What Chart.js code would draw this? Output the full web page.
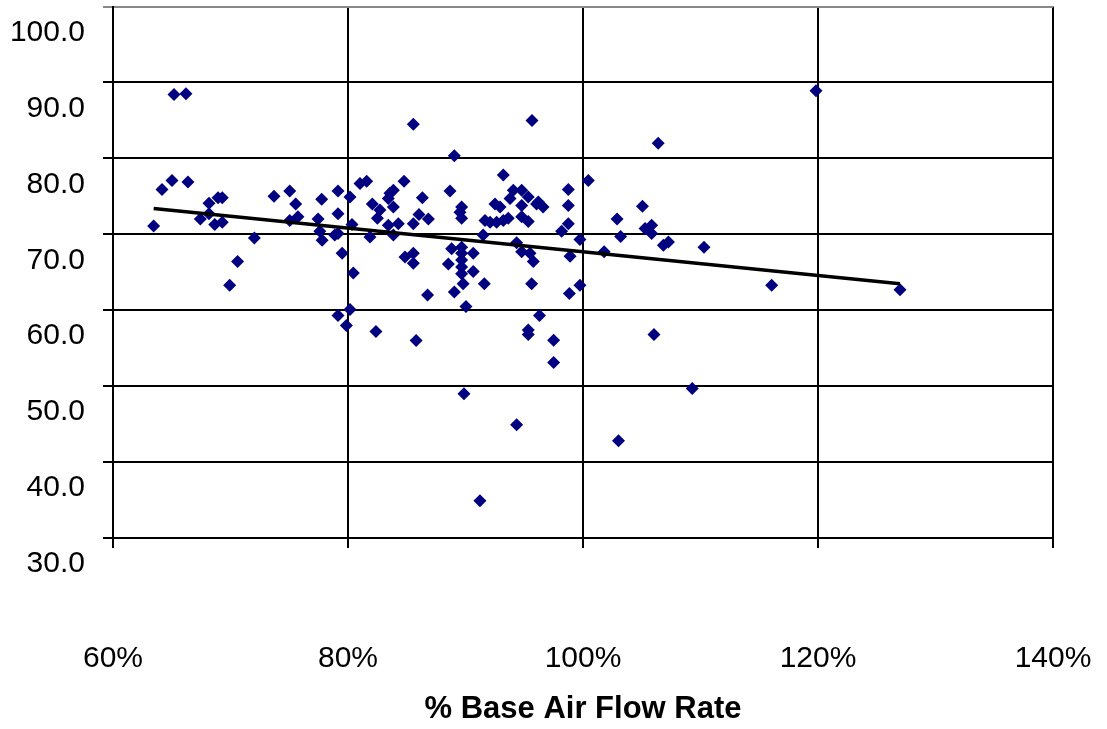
<!DOCTYPE html>
<html>
<head>
<meta charset="utf-8">
<script src="https://cdn.jsdelivr.net/npm/chart.js@4/dist/chart.umd.min.js"></script>
<style>
  html, body { margin: 0; padding: 0; background: #fff; }
  #wrap { width: 1107px; height: 729px; }
</style>
</head>
<body>
<div id="wrap"><canvas id="c" width="1107" height="729"></canvas></div>
<script>
// % base air flow rate (x) for each observation
const airFlowPct = [
  65.19, 66.21, 65.02, 64.17, 66.38, 63.46, 67.43, 68.17, 68.17, 68.94,
  69.30, 68.66, 69.30, 72.03, 70.60, 69.93, 73.70, 75.04, 75.55, 75.04,
  75.74, 77.76, 77.45, 77.60, 77.80, 79.15, 79.15, 78.87, 79.15, 79.50,
  80.17, 80.45, 80.34,
  85.56, 95.66, 89.05, 93.22, 81.02, 81.59, 82.07, 84.77, 83.43, 83.57,
  83.86, 82.72, 82.50, 83.86, 83.43, 84.28, 83.86, 81.87, 86.33, 86.04,
  86.84, 85.56, 88.68, 89.67, 89.53, 89.67, 91.66, 92.09, 92.65, 93.22,
  93.64, 91.50, 92.51, 92.94, 94.07, 94.78, 95.34, 93.79, 94.78, 94.78,
  95.34, 96.05, 88.82, 89.67, 90.66, 89.67, 89.67, 89.67, 89.67, 88.54,
  90.66, 89.80, 91.60, 89.05, 86.77, 84.85, 85.56, 85.56, 94.35, 94.78,
  95.49, 95.77, 95.63,
  90.04, 79.15, 79.86, 80.17, 82.38, 85.80, 95.34, 95.34, 96.30, 89.87,
  94.35, 91.23,
  106.40, 100.45, 98.75, 98.75, 96.20, 96.60, 98.75, 98.18, 99.74, 98.90,
  99.74, 98.84, 102.90, 103.20, 101.80, 105.06, 105.28, 105.84, 105.84, 106.84,
  107.27, 110.30,
  97.50, 97.50, 106.04, 109.30, 103.02,
  119.83, 116.06, 126.98
];
// measured value (y) for each observation
const measuredValue = [
  88.4, 88.5, 77.1, 75.9, 76.9, 71.1, 72.0, 74.1, 72.7, 74.8,
  74.8, 71.3, 71.6, 69.5, 66.4, 63.3, 75.0, 75.7, 74.0, 71.8,
  72.3, 74.6, 72.0, 70.4, 69.2, 75.7, 72.7, 69.9, 70.1, 67.5,
  74.9, 64.9, 71.3,
  84.5, 85.0, 80.35, 77.8, 76.7, 77.0, 74.0, 77.0, 74.7, 75.4,
  75.8, 73.2, 72.1, 73.6, 71.2, 71.4, 69.9, 69.65, 74.8, 72.6,
  72.0, 71.4, 75.7, 73.6, 72.9, 72.1, 71.8, 71.6, 71.6, 71.8,
  72.1, 69.9, 74.0, 73.6, 75.8, 75.8, 74.9, 74.7, 73.8, 72.3,
  71.7, 74.0, 68.1, 68.3, 67.5, 67.5, 66.6, 65.7, 64.8, 66.1,
  65.1, 63.5, 63.5, 62.4, 62.0, 67.0, 67.5, 66.2, 68.9, 67.7,
  67.5, 66.4, 63.5,
  60.5, 59.3, 58.0, 60.1, 57.2, 56.0, 57.4, 56.8, 59.3, 49.0,
  44.9, 34.9,
  82.0, 77.1, 75.9, 73.8, 74.25, 73.6, 71.4, 70.4, 69.3, 67.1,
  63.3, 62.2, 72.0, 69.7, 67.7, 73.7, 70.75, 71.2, 70.1, 68.55,
  69.0, 68.3,
  56.05, 53.1, 56.8, 49.7, 42.8,
  88.9, 63.3, 62.7
];
// linear trendline end points
const trendX = [63.46, 126.98];
const trendY = [73.4, 63.5];
// axis ticks
const xTicks = [60, 80, 100, 120, 140];
const yTicks = [30, 40, 50, 60, 70, 80, 90, 100];

const FONT = "'Liberation Sans', Arial, Helvetica, sans-serif";

const scatterData = airFlowPct.map((x, i) => ({ x: x, y: measuredValue[i] }));
const trendData = trendX.map((x, i) => ({ x: x, y: trendY[i] }));

function noPad(s) {
  s.paddingLeft = 0; s.paddingRight = 0; s.paddingTop = 0; s.paddingBottom = 0;
}

new Chart(document.getElementById('c'), {
  type: 'scatter',
  data: {
    datasets: [
      {
        type: 'line',
        data: trendData,
        borderColor: '#000000',
        borderWidth: 3.5,
        pointRadius: 0,
        fill: false,
        order: 0
      },
      {
        data: scatterData,
        pointStyle: 'rectRot',
        pointRadius: 6.5,
        pointBackgroundColor: '#000080',
        pointBorderColor: '#000080',
        pointBorderWidth: 0,
        order: 1
      }
    ]
  },
  options: {
    responsive: false,
    animation: false,
    events: [],
    layout: { padding: { top: 6, right: 54, left: 0, bottom: 0 } },
    plugins: { legend: { display: false }, tooltip: { enabled: false } },
    scales: {
      x: {
        type: 'linear',
        min: xTicks[0],
        max: xTicks[xTicks.length - 1],
        afterBuildTicks: s => { s.ticks = xTicks.map(v => ({ value: v })); },
        afterFit: s => { s.height = 191; noPad(s); },
        border: { color: '#000', width: 2 },
        grid: { color: '#000', lineWidth: 2, tickLength: 10, drawTicks: true },
        ticks: {
          padding: 93,
          color: '#000',
          font: { family: FONT, size: 30 },
          maxRotation: 0,
          callback: v => v + '%'
        },
        title: {
          display: true,
          text: '% Base Air Flow Rate',
          color: '#000',
          font: { family: FONT, size: 31, weight: 'bold' },
          padding: { top: 0, bottom: 1 }
        }
      },
      y: {
        type: 'linear',
        min: yTicks[0],
        max: yTicks[yTicks.length - 1],
        afterBuildTicks: s => { s.ticks = yTicks.map(v => ({ value: v })); },
        afterFit: s => { s.width = 113; noPad(s); },
        border: { color: '#000', width: 2 },
        grid: {
          color: ctx => (ctx.tick && ctx.tick.value === 100 ? '#888888' : '#000'),
          lineWidth: 2,
          tickLength: 10,
          drawTicks: true
        },
        ticks: {
          padding: 18,
          labelOffset: 26,
          color: '#000',
          font: { family: FONT, size: 30 },
          callback: v => Number(v).toFixed(1)
        }
      }
    }
  }
});
</script>
</body>
</html>
